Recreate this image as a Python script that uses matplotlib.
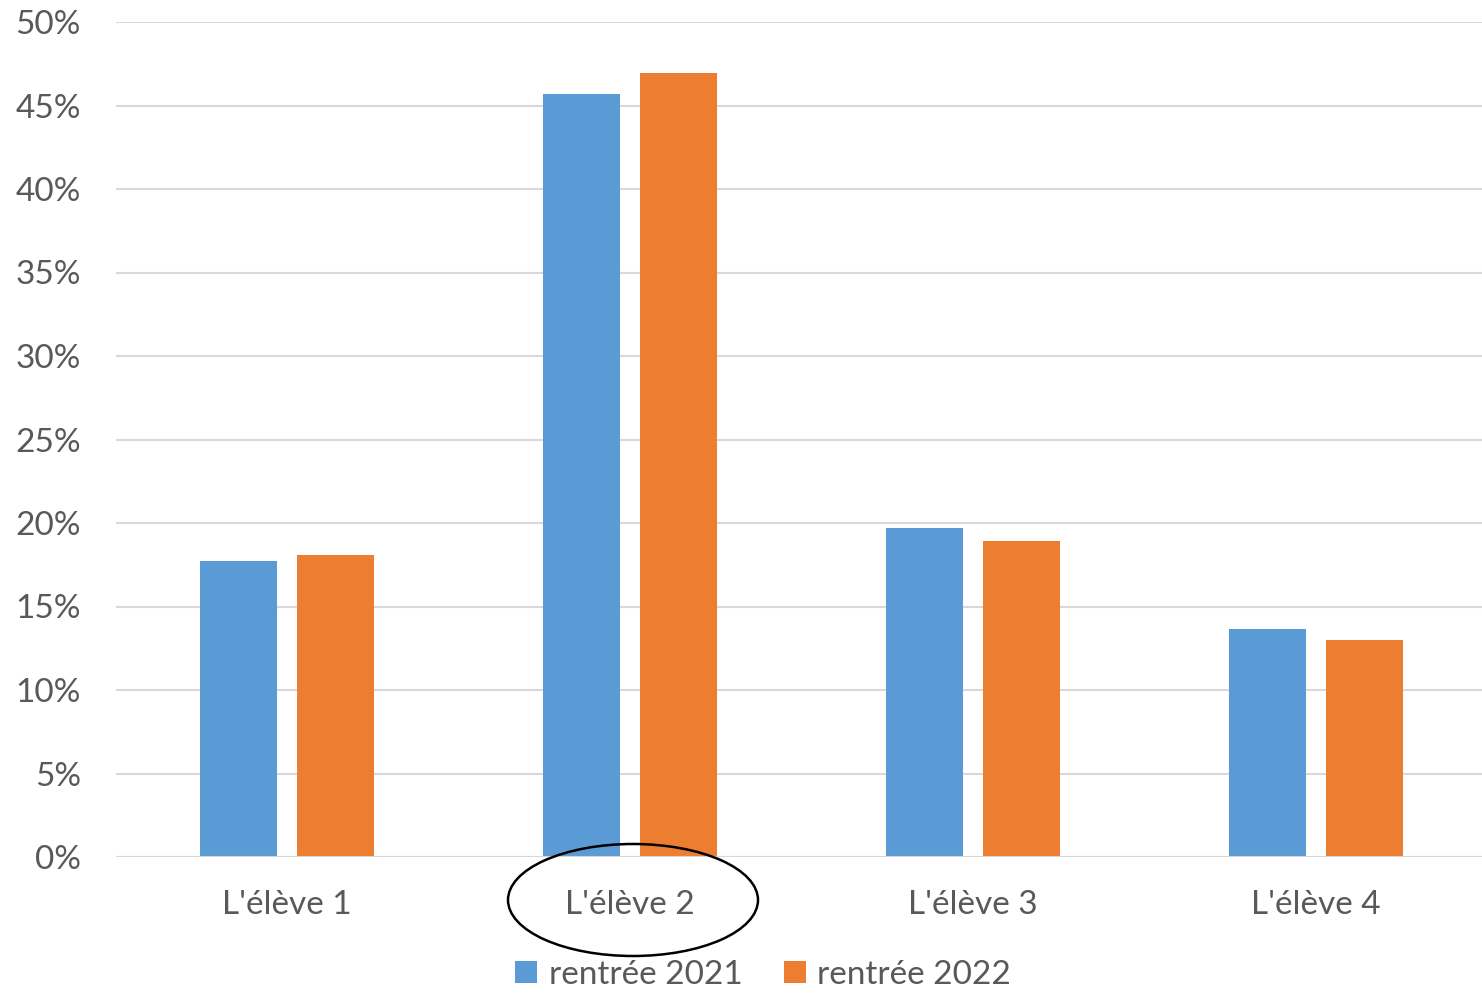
import numpy as np
import matplotlib
matplotlib.use("Agg")
import matplotlib.pyplot as plt
from matplotlib.patches import Ellipse
from matplotlib.ticker import MultipleLocator, FuncFormatter

categories = ["L'élève 1", "L'élève 2", "L'élève 3", "L'élève 4"]
series_names = ["rentrée 2021", "rentrée 2022"]
rentree_2021 = [17.75, 45.7, 19.7, 13.65]
rentree_2022 = [18.1, 46.95, 18.9, 13.0]
colors = ["#5B9BD5", "#ED7D31"]

plt.rcParams["font.family"] = ["Lato", "DejaVu Sans"]
text_color = "#595959"

fig = plt.figure(figsize=(14.82, 9.93), dpi=100)
ax = fig.add_axes([115.5 / 1482, 136 / 993, 1372 / 1482, 835 / 993])

x = np.arange(len(categories))
width = 0.225
gap = 0.06
ax.bar(x - (width + gap) / 2, rentree_2021, width, color=colors[0], label=series_names[0], zorder=3)
ax.bar(x + (width + gap) / 2, rentree_2022, width, color=colors[1], label=series_names[1], zorder=3)

ax.set_xlim(-0.5, len(categories) - 0.5)
ax.set_ylim(0, 50)
ax.yaxis.set_major_locator(MultipleLocator(5))
ax.yaxis.set_major_formatter(FuncFormatter(lambda v, p: f"{v:.0f}%"))
ax.grid(axis="y", color="#d9d9d9", linewidth=1.5, zorder=0)
ax.set_axisbelow(True)
for s in ["top", "right", "left", "bottom"]:
    ax.spines[s].set_visible(False)
ax.axhline(0, color="#d9d9d9", linewidth=1.5, zorder=4)

ax.set_xticks(x)
ax.set_xticklabels(categories)
ax.tick_params(axis="both", length=0, labelsize=24, labelcolor=text_color)
ax.tick_params(axis="x", pad=24)
ax.tick_params(axis="y", pad=25)

# circle around the second student's label
ell = Ellipse((633 / 1482, 1 - 900 / 993), 250 / 1482, 112 / 993,
              transform=fig.transFigure, fill=False, edgecolor="black", linewidth=1.8)
fig.patches.append(ell)

leg = fig.legend(loc="center", bbox_to_anchor=(0.515, 1 - 975 / 993), ncol=2, frameon=False,
                 fontsize=24, handlelength=0.65, handleheight=0.65, handletextpad=0.35,
                 columnspacing=1.25, borderpad=0)
for t in leg.get_texts():
    t.set_color(text_color)

fig.savefig("out.png", dpi=100)
